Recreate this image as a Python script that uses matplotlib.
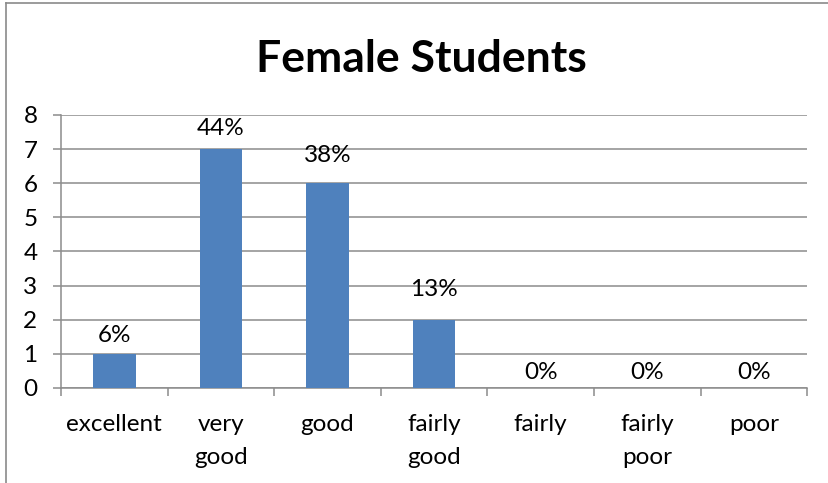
import matplotlib
matplotlib.use('Agg')
import matplotlib.pyplot as plt
from matplotlib.lines import Line2D

# ratings given by female students
categories = ['excellent', 'very\ngood', 'good', 'fairly\ngood', 'fairly', 'fairly\npoor', 'poor']
counts = [1, 7, 6, 2, 0, 0, 0]
percent_labels = ['6%', '44%', '38%', '13%', '0%', '0%', '0%']

# how far each label centre sits above its bar (points)
label_offsets = [13, 15, 20, 22, 11, 11, 11]

plt.rcParams['font.family'] = ['Lato', 'DejaVu Sans']

bar_color = '#4F81BD'
line_color = '#8C8C8C'

fig = plt.figure(figsize=(8.29, 4.83), dpi=100)
ax = fig.add_axes([0.0736, 0.1967, 0.9, 0.5653])

x = list(range(len(categories)))
ax.bar(x, counts, width=0.4, color=bar_color, zorder=3)

for xi, c, lab, off in zip(x, counts, percent_labels, label_offsets):
    ax.annotate(lab, (xi, c), xytext=(0, off), textcoords='offset points',
                ha='center', va='center', fontsize=17.5)

ax.set_xlim(-0.5, len(categories) - 0.5)
ax.set_ylim(0, 8)
ax.set_yticks(range(0, 9))
ax.yaxis.grid(True, color=line_color, linewidth=1.1, zorder=0)
ax.set_axisbelow(True)

ax.set_xticks(x)
ax.set_xticklabels(categories, fontsize=17.5, linespacing=1.7)
ax.set_xticks([i - 0.5 for i in range(len(categories) + 1)], minor=True)
ax.tick_params(axis='x', which='major', length=0, pad=19)
ax.tick_params(axis='x', which='minor', length=6, width=1.1, color=line_color, direction='out')
ax.tick_params(axis='y', length=6, width=1.1, color=line_color, labelsize=17.5, pad=11)

for side in ['top', 'right']:
    ax.spines[side].set_visible(False)
for side in ['left', 'bottom']:
    ax.spines[side].set_color(line_color)
    ax.spines[side].set_linewidth(1.1)

fig.text(0.508, 0.878, 'Female Students', ha='center', va='center',
         fontsize=32, fontweight='bold')

# chart frame
fig.add_artist(Line2D([0.0072, 0.0072], [0, 0.9938], color='#8A8A8A', linewidth=1.2))
fig.add_artist(Line2D([0.0072, 1.0], [0.9938, 0.9938], color='#8A8A8A', linewidth=1.2))

fig.savefig('out.png', dpi=100)
